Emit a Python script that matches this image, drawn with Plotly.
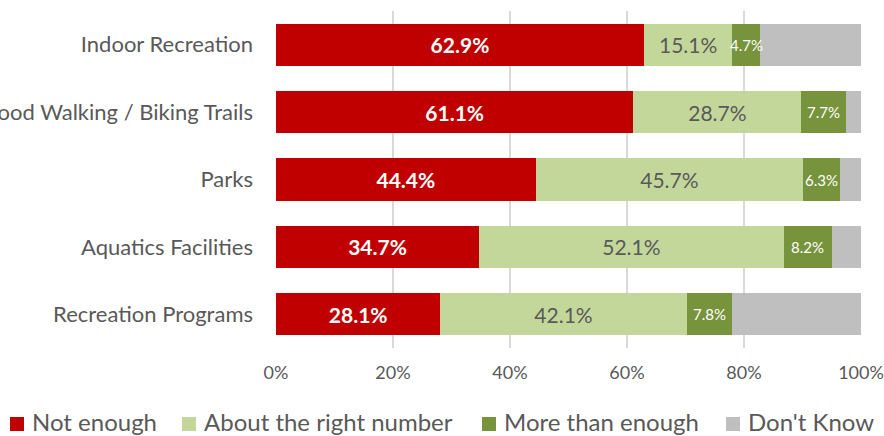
import plotly.graph_objects as go

categories = [
    "Indoor Recreation",
    "Neighborhood Walking / Biking Trails",
    "Parks",
    "Aquatics Facilities",
    "Recreation Programs",
]
not_enough = [62.9, 61.1, 44.4, 34.7, 28.1]
about_right = [15.1, 28.7, 45.7, 52.1, 42.1]
more_than_enough = [4.7, 7.7, 6.3, 8.2, 7.8]
dont_know = [17.3, 2.5, 3.6, 5.0, 22.0]
series_names = ["Not enough", "About the right number", "More than enough", "Don't Know"]
tick_vals = [0, 20, 40, 60, 80, 100]
tick_text = ["0%", "20%", "40%", "60%", "80%", "100%"]

FONT = "Lato"
GRAY_TEXT = "#595959"
COLORS = ["#C00000", "#C4D79B", "#77933C", "#BFBFBF"]

W, H = 884, 436
M_L, M_R, M_T, M_B = 276, 23, 11, 88
PLOT_H = H - M_T - M_B
PLOT_W = W - M_L - M_R

fig = go.Figure()

# Not enough / About the right number: labels sit inside the bars
fig.add_trace(go.Bar(
    name=series_names[0], y=categories, x=not_enough, orientation="h",
    marker=dict(color=COLORS[0], line=dict(width=0)),
    text=[f"{v:.1f}%" for v in not_enough], textposition="inside",
    insidetextanchor="middle", textangle=0,
    textfont=dict(color="white", size=21, family=FONT, weight="bold"),
    hoverinfo="skip",
))
fig.add_trace(go.Bar(
    name=series_names[1], y=categories, x=about_right, orientation="h",
    marker=dict(color=COLORS[1], line=dict(width=0)),
    text=[f"{v:.1f}%" for v in about_right], textposition="inside",
    insidetextanchor="middle", textangle=0,
    textfont=dict(color=GRAY_TEXT, size=21, family=FONT),
    hoverinfo="skip",
))
fig.add_trace(go.Bar(
    name=series_names[2], y=categories, x=more_than_enough, orientation="h",
    marker=dict(color=COLORS[2], line=dict(width=0)),
    hoverinfo="skip",
))
fig.add_trace(go.Bar(
    name=series_names[3], y=categories, x=dont_know, orientation="h",
    marker=dict(color=COLORS[3], line=dict(width=0)),
    hoverinfo="skip",
))

# "More than enough" labels may spill past their narrow segments, so they are
# placed as annotations at each segment's midpoint
for cat, a, b, c in zip(categories, not_enough, about_right, more_than_enough):
    fig.add_annotation(
        x=a + b + c / 2, y=cat, xref="x", yref="y",
        text=f"{c:.1f}%", showarrow=False,
        font=dict(color="white", size=15, family=FONT),
    )

# Legend row: colour swatch followed by the series name
legend_x = [10, 182, 482, 726]
swatch_y_px = 424
label_y_px = 421
y_sw = (H - M_B - swatch_y_px) / PLOT_H
y_lb = (H - M_B - label_y_px) / PLOT_H
sq = 14 / PLOT_H
for name, color, lx in zip(series_names, COLORS, legend_x):
    fig.add_shape(
        type="rect", xref="paper", yref="paper",
        x0=(lx - M_L) / PLOT_W, x1=(lx + 14 - M_L) / PLOT_W,
        y0=y_sw - sq / 2, y1=y_sw + sq / 2,
        fillcolor=color, line=dict(width=0),
    )
    fig.add_annotation(
        x=(lx + 20 - M_L) / PLOT_W, y=y_lb, xref="paper", yref="paper",
        xanchor="left", yanchor="middle", showarrow=False,
        text=name, font=dict(size=24, color=GRAY_TEXT, family=FONT),
    )

fig.update_layout(
    barmode="stack",
    bargap=0.375,
    width=W,
    height=H,
    margin=dict(l=M_L, r=M_R, t=M_T, b=M_B, autoexpand=False),
    plot_bgcolor="white",
    paper_bgcolor="white",
    font=dict(family=FONT, color=GRAY_TEXT),
    showlegend=False,
    xaxis=dict(
        range=[0, 100],
        tickvals=tick_vals,
        ticktext=tick_text,
        showgrid=True,
        gridcolor="#D9D9D9",
        gridwidth=1.5,
        zeroline=False,
        showline=False,
        tickfont=dict(size=18, color=GRAY_TEXT, family=FONT),
        ticks="",
        ticklabelstandoff=12,
        automargin=False,
    ),
    yaxis=dict(
        autorange="reversed",
        showgrid=False,
        zeroline=False,
        showline=False,
        ticks="",
        tickfont=dict(size=22, color=GRAY_TEXT, family=FONT),
        ticklabelstandoff=22,
        automargin=False,
    ),
)

fig.write_html("out.html")
